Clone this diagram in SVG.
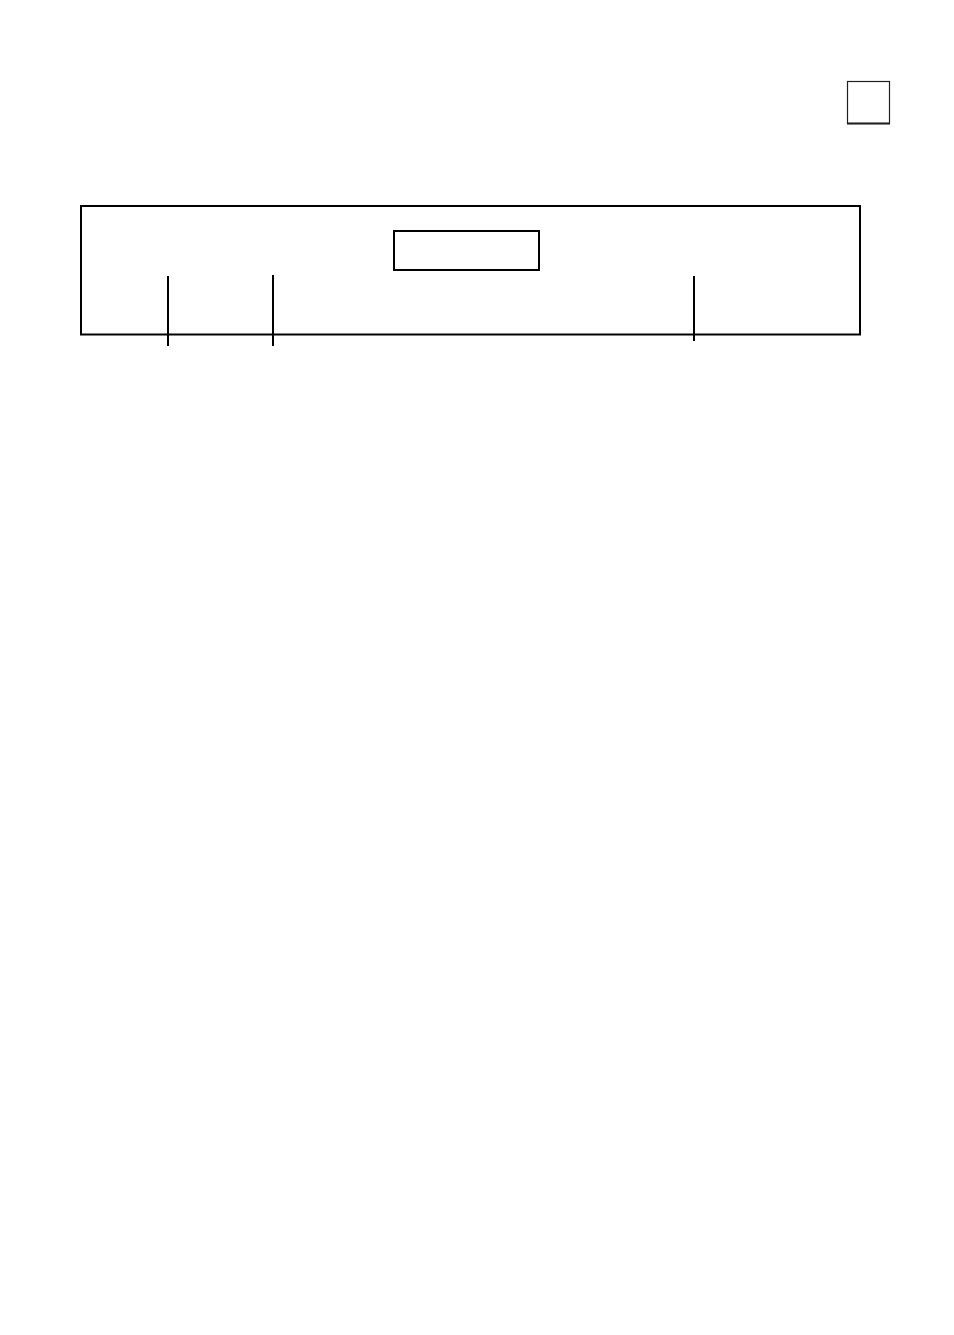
<svg xmlns="http://www.w3.org/2000/svg" width="954" height="1335" viewBox="0 0 954 1335">
<style>
.box{fill:none;stroke:#000;stroke-width:2}
.thin{fill:none;stroke:#231f20;stroke-width:1.2}
.ln{stroke:#000;stroke-width:2;fill:none}
</style>
<rect width="954" height="1335" fill="#fff"/>
<g id="page-box">
<rect class="thin" x="847.5" y="81.5" width="42" height="42"/>
<line x1="847" y1="123.5" x2="890" y2="123.5" stroke="#231f20" stroke-width="2"/>
</g>
<g id="outer-panel">
<rect class="box" x="81" y="206" width="779" height="128.5"/>
</g>
<g id="display">
<rect class="box" x="394" y="231" width="145" height="39"/>
</g>
<g id="connectors">
<line class="ln" x1="168" y1="276" x2="168" y2="346"/>
<line class="ln" x1="273" y1="275" x2="273" y2="346"/>
<line class="ln" x1="694" y1="276" x2="694" y2="341"/>
</g>
</svg>
